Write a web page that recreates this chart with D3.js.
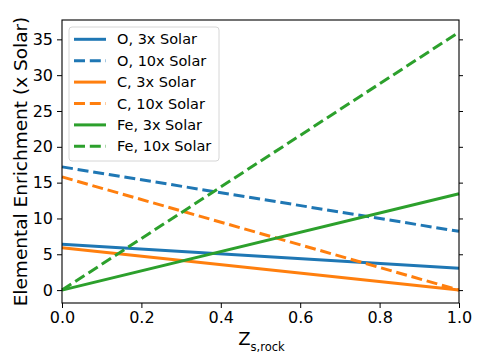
<!DOCTYPE html>
<html>
<head>
<meta charset="utf-8">
<script src="https://cdn.jsdelivr.net/npm/d3@7"></script>
<style>
	body { margin: 0; background: #fff; }
	svg { font-family: "DejaVu Sans", sans-serif; }
</style>
</head>
<body>
<div id="chart"></div>
<script>

// data (values at Z = 0 and Z = 1)
const zValues = [0, 1];
const seriesNames = ["O, 3x Solar", "O, 10x Solar", "C, 3x Solar", "C, 10x Solar", "Fe, 3x Solar", "Fe, 10x Solar"];
const oThree = [6.4, 3.05];
const oTen = [17.2, 8.2];
const cThree = [5.9, 0];
const cTen = [15.8, 0];
const feThree = [0, 13.45];
const feTen = [0, 36.0];
const seriesColors = ["#1f77b4", "#1f77b4", "#ff7f0e", "#ff7f0e", "#2ca02c", "#2ca02c"];
const seriesDashed = [false, true, false, true, false, true];
const xTicks = [0, 0.2, 0.4, 0.6, 0.8, 1.0];
const yTicks = [0, 5, 10, 15, 20, 25, 30, 35];

let allValues = [oThree, oTen, cThree, cTen, feThree, feTen];
let series = seriesNames.map((name, i) => ({
	name: name,
	color: seriesColors[i],
	dashed: seriesDashed[i],
	points: zValues.map((z, j) => ({ z: z, v: allValues[i][j] }))
}));

let margin = { top: 20, right: 25, bottom: 59, left: 62 };
let width = 484 - margin.left - margin.right;
let height = 362 - margin.top - margin.bottom;

let svg = d3.select("#chart").append("svg")
	.attr("width", 484)
	.attr("height", 362);

let g = svg.append("g")
	.attr("transform", "translate(" + margin.left + "," + margin.top + ")");

let x = d3.scaleLinear()
	.domain([0, 1])
	.range([0, width]);

let y = d3.scaleLinear()
	.domain([-1.8, 37.7])
	.range([height, 0]);

// lines
let line = d3.line()
	.x(d => x(d.z))
	.y(d => y(d.v));

g.append("g")
	.selectAll("path")
	.data(series)
	.enter()
	.append("path")
	.attr("d", d => line(d.points))
	.attr("fill", "none")
	.attr("stroke", d => d.color)
	.attr("stroke-width", 3)
	.attr("stroke-dasharray", d => d.dashed ? "11,4.8" : null);

// axes
let xAxis = g.append("g")
	.attr("transform", "translate(0," + height + ")")
	.call(d3.axisBottom(x).tickValues(xTicks).tickFormat(d3.format(".1f")).tickSize(5).tickPadding(4));

let yAxis = g.append("g")
	.call(d3.axisLeft(y).tickValues(yTicks).tickSize(5).tickPadding(4));

let yAxisRight = g.append("g")
	.attr("transform", "translate(" + width + ",0)")
	.call(d3.axisRight(y).tickValues(yTicks).tickSize(4).tickFormat(""));

[xAxis, yAxis, yAxisRight].forEach(a => {
	a.select(".domain").remove();
	a.selectAll("line").attr("stroke", "#000").attr("stroke-width", 1);
	a.selectAll("text").attr("fill", "#000").style("font-size", "16px").style("font-family", "DejaVu Sans");
});

// frame
g.append("rect")
	.attr("x", 0)
	.attr("y", 0)
	.attr("width", width)
	.attr("height", height)
	.attr("fill", "none")
	.attr("stroke", "#000")
	.attr("stroke-width", 1.1);

// axis labels
let xLabel = svg.append("text")
	.attr("x", margin.left + width / 2 + 1)
	.attr("y", 345)
	.attr("text-anchor", "middle")
	.style("font-size", "18px");
xLabel.append("tspan").text("Z");
xLabel.append("tspan")
	.attr("dy", 5.5)
	.style("font-size", "11.5px")
	.text("s,rock");

svg.append("text")
	.attr("transform", "translate(26.5," + (margin.top + height / 2) + ") rotate(-90)")
	.attr("text-anchor", "middle")
	.style("font-size", "18.5px")
	.text("Elemental Enrichment (x Solar)");

// legend
let legend = svg.append("g")
	.attr("transform", "translate(69,27)");

legend.append("rect")
	.attr("width", 150)
	.attr("height", 134)
	.attr("rx", 3)
	.attr("fill", "#fff")
	.attr("fill-opacity", 0.8)
	.attr("stroke", "#d6d6d6");

let items = legend.selectAll(".legend-item")
	.data(series)
	.enter()
	.append("g")
	.attr("class", "legend-item")
	.attr("transform", (d, i) => "translate(0," + (12.3 + i * 21.4) + ")");

items.append("line")
	.attr("x1", 5)
	.attr("x2", 37)
	.attr("stroke", d => d.color)
	.attr("stroke-width", 3)
	.attr("stroke-dasharray", d => d.dashed ? "11,4.8" : null);

items.append("text")
	.attr("x", 48)
	.attr("dy", "0.35em")
	.style("font-size", "14.5px")
	.text(d => d.name);

</script>
</body>
</html>
